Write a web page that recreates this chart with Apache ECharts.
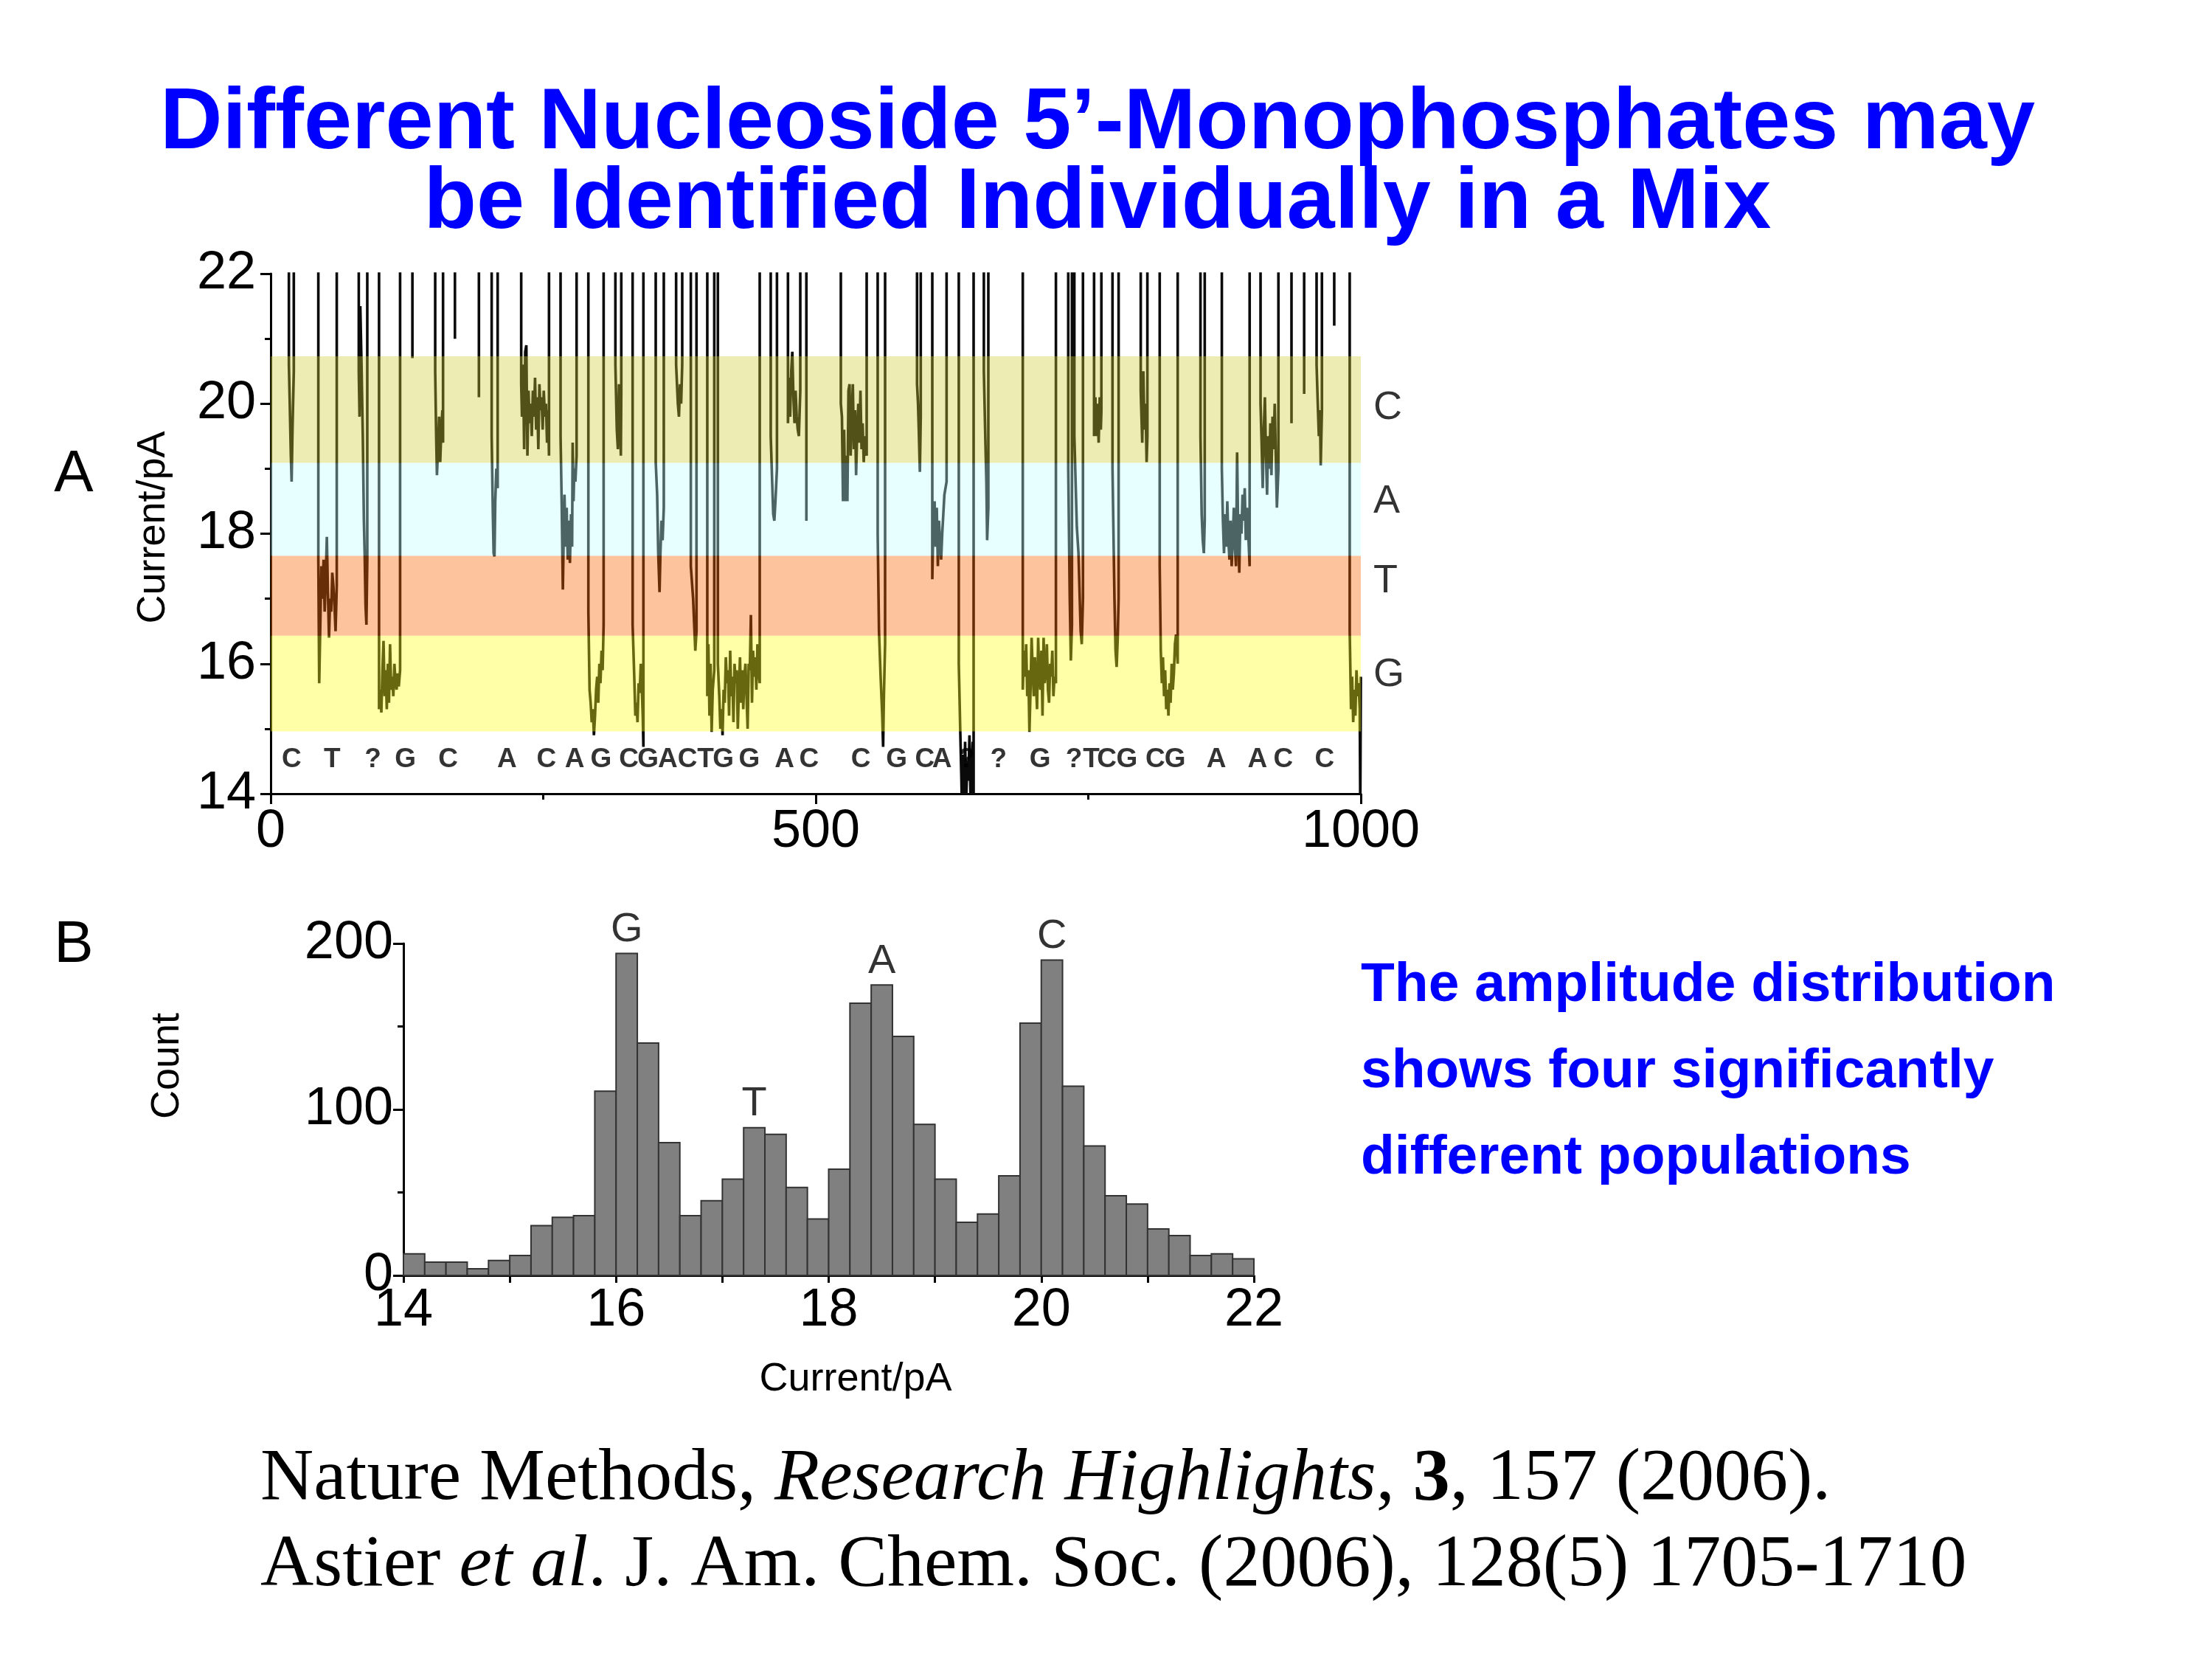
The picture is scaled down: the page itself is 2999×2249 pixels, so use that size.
<!DOCTYPE html>
<html><head><meta charset="utf-8">
<script src="https://cdn.jsdelivr.net/npm/echarts@6/dist/echarts.min.js"></script>
<style>html,body{margin:0;padding:0;background:#fff}#c{width:2999px;height:2249px}</style>
</head><body><div id="c"></div>
<script>
// ---------- Panel A data ----------
const OPEN_LEVEL = 23; // open-pore current (above the plotted range)
const traceEvents = [
  [[16.7,20.6],[17.5,20.0],[18.5,19.2],[19.2,18.8],[20,19.6],[21.2,20.5]],
  [[43.7,17.6],[44.5,15.7],[46.5,17.5],[47.5,17.0],[48.5,17.6],[49.5,16.8],[50.5,17.3],[51.5,17.95],[52.5,17.1],[53.5,16.4],[54.5,17.0],[55.5,16.8],[56.5,17.4],[57.5,17.2],[58.5,16.9],[59.5,16.5],[60.6,17.2]],
  [[80.8,20.5],[81.5,19.8],[82.2,21.5],[83.3,20.6],[84.5,19.5],[85.5,18.2],[86.2,17.7],[87,16.9],[87.8,16.6],[88.6,17.6]],
  [[99.4,15.3],[100.5,15.6],[101.5,15.25],[102.5,15.9],[103.5,16.35],[104.5,15.5],[105.5,15.9],[106.5,15.3],[107.5,16.0],[108.5,15.4],[109.5,16.3],[110.5,15.6],[111.5,15.8],[112.5,15.5],[113.5,16.0],[114.5,15.7],[115.5,15.6],[116.5,15.85],[117.5,15.65],[118.7,15.9]],
  [[130,20.7]],
  [[150.9,20.5],[151.8,19.5],[152.5,18.9],[153.5,19.3],[154.5,19.8],[155.5,19.1],[156.5,19.6],[157.5,19.9],[158.1,19.4]],
  [[169,21.0]],
  [[191,20.1]],
  [[202.7,19.5],[203.8,18.3],[204.5,17.7],[205.3,17.65],[206,18.5],[207,19.0],[208.2,18.7]],
  [[229.8,20.3],[230.5,19.8],[231.5,20.6],[232.5,19.3],[233.5,20.8],[234.5,20.9],[235.5,19.2],[236.5,20.2],[237.5,19.7],[238.5,20.0],[239.5,19.5],[240.5,20.2],[241.5,19.8],[242.5,20.4],[243.5,19.6],[244.5,20.1],[245.5,19.3],[246.5,20.3],[247.5,19.9],[248.5,20.1],[249.5,19.6],[250.5,20.2],[251.5,19.8],[252.5,20.0],[253.5,19.4],[254.5,19.9],[255.3,19.2]],
  [[265.9,19.5],[267,18.4],[268,17.14],[268.8,18.0],[269.5,18.6],[270.5,17.8],[271.5,18.4],[272.5,17.6],[273.5,18.2],[274.5,17.55],[275.5,18.3],[276.5,17.8],[277,19.4],[277.8,18.5],[278.5,19.0],[279.5,18.8],[280.6,19.2]],
  [[291.4,16.8],[292.5,15.6],[293.5,15.4],[294.5,15.1],[295.5,15.3],[296.5,14.9],[297.5,15.2],[298.5,15.6],[299.5,15.8],[300.5,15.4],[301.5,16.0],[302.5,15.7],[303.5,16.2],[304.5,15.9],[305.4,16.6]],
  [[316.2,20.6],[317.5,19.6],[318.5,19.3],[319.5,20.3],[320.5,19.8],[321.2,19.2],[321.6,20.2]],
  [[332,16.6],[333.5,15.8],[334.5,15.2],[335.5,15.4],[336.5,15.1],[337.5,15.7],[338.5,15.55],[339.5,16.0],[340.5,15.6],[341.3,15.2],[341.9,14.72]],
  [[353.2,19.1],[354.5,18.6],[355.5,17.7],[356.7,17.1],[357.5,17.7],[358.5,18.2],[359.5,17.9],[360.6,18.4]],
  [[371.9,20.6],[373.5,20.0],[374.5,19.8],[375.5,20.3],[376.5,20.0],[377.5,20.6]],
  [[385.4,17.5],[387.5,17.0],[388.5,16.6],[389.5,16.2],[390.6,16.5]],
  [[400.5,15.5],[401.5,16.3],[402.5,15.2],[403.5,16.0],[404.5,14.95],[405.5,15.6],[406.9,15.9]],
  [[410.2,16.0],[411.5,15.5],[412.5,15.0],[413.5,15.3],[414.5,14.9],[415.5,15.6],[416.5,15.4],[417.5,16.1],[418.5,15.7],[419.5,15.9],[420.5,15.2],[421.5,16.2],[422.5,15.5],[423.5,15.8],[424.5,15.1],[425.5,16.0],[426.5,15.7],[427.5,15.9],[428.5,15.0],[429.5,15.6],[430.5,16.1],[431.5,15.4],[432.5,15.9],[433.5,15.3],[434.5,15.8],[435.5,16.0],[436.5,15.5],[437.5,15.0],[438.5,16.0],[439.5,15.9],[440.5,16.75],[441.5,15.4],[442.5,16.2],[443.5,15.8],[444.5,16.1],[445.5,15.6],[446.5,16.3],[447.5,15.9],[448.6,15.7]],
  [[458.7,19.5],[460,18.8],[461,18.3],[462,18.2],[463,18.5],[464.4,19.0]],
  [[474.5,19.7],[475.5,20.4],[476.5,19.8],[477.5,20.5],[478.5,20.8],[479.5,20.1],[480.5,19.7],[481.5,20.2],[482.5,19.8],[483.5,19.6],[484.5,19.5],[485.8,20.2]],
  [[491.4,18.2]],
  [[523,20.0],[524,19.8],[525,18.5],[526,19.6],[527,18.5],[528,19.2],[529,18.5],[530,20.2],[531,20.3],[532,19.2],[533,19.8],[534,20.3],[535,19.3],[536,19.9],[537,18.9],[538,19.6],[539,20.0],[540,19.4],[541,20.2],[542,19.3],[543,19.7],[544,19.1],[545,19.5],[546.7,19.2]],
  [[556.8,18.0],[558,16.5],[559.5,15.8],[561,15.2],[561.8,14.72],[562.5,15.5],[563.6,16.3]],
  [[592.9,20.3],[593.8,20.0],[594.5,19.6],[595.5,18.95],[596.3,19.8]],
  [[606.9,17.3],[608,18.3],[609,18.5],[610,17.8],[611,18.4],[612,17.5],[613,18.2],[614,17.9],[615,17.6],[616,18.0],[617,18.3],[618,18.6],[620,18.8]],
  [[631.2,16.0],[632.5,15.0],[633.5,14.3],[634,13.9],[635,14.6],[636,13.9],[637,14.8],[638,13.9],[639,14.5],[640,14.2],[641,14.9],[642,13.9],[643,14.4],[644,14.8],[644.8,13.9]],
  [[654.2,20.5],[655.5,19.5],[656.5,18.8],[657.2,17.9],[658.3,18.4]],
  [[689.9,15.6],[691,16.2],[692,15.8],[693,16.3],[694,15.5],[695,15.9],[696,14.95],[697,15.6],[698,16.4],[699,15.9],[700,15.5],[701,16.1],[702,15.7],[703,15.3],[704,16.4],[705,15.8],[706,15.6],[707,16.2],[708,15.2],[709,16.4],[710,15.7],[711,15.9],[712,16.3],[713,15.6],[714,15.4],[715,16.0],[716,15.8],[717,16.2],[718,15.5],[719,15.8],[720.3,15.7]],
  [[731.6,19.0],[733,17.0],[734,16.05],[735,16.6]],
  [[737.2,19.5],[739.5,18.1],[741,17.7],[742,17.1],[743,16.5],[744,16.3],[745.1,17.0]],
  [[755.3,19.5],[756.5,20.1],[757.5,19.5],[758.5,20.0],[759.5,19.4],[760.5,20.1],[761.5,19.6],[762,19.9]],
  [[772.2,19.0],[774,17.0],[775,16.2],[776,15.95],[777,16.4],[777.8,17.0]],
  [[798.1,20.2],[799.5,19.4],[800.5,20.5],[801.5,19.6],[802.5,20.0],[803.5,19.1],[804.2,19.5]],
  [[815.5,17.5],[816.5,16.2],[817.5,15.7],[818.5,16.1],[819.5,15.5],[820.5,15.9],[821.5,15.3],[822.5,15.6],[823.5,15.2],[824.5,15.7],[825.5,15.4],[826.5,16.0],[827.5,15.6],[828.5,15.85],[829.5,16.3],[830.5,16.45],[832,16.0]],
  [[852.9,19.5],[854,18.3],[855,17.9],[856,17.7],[856.8,18.2]],
  [[872.5,19.0],[873.5,18.2],[874.5,17.7],[875.5,18.3],[876.5,17.8],[877.5,18.5],[878.5,17.9],[879.5,17.6],[880.5,18.2],[881.5,17.5],[882.5,17.9],[883.5,18.4],[884.5,17.8],[885.5,17.5],[886.5,19.25],[887.5,18.0],[888.5,17.4],[889.5,18.3],[890.5,18.0],[891.5,18.6],[892.5,18.2],[893.5,18.7],[894.5,17.9],[895.5,18.4],[896.5,18.1],[898,17.5]],
  [[908,20.0],[909,19.4],[910,18.7],[911,19.6],[912,20.1],[913,19.2],[914,18.6],[915,19.5],[916,19.0],[917,19.7],[918,18.9],[919,19.8],[920,19.3],[921,20.0],[922,19.2],[923,18.4],[924.4,19.0]],
  [[936.4,19.7]],
  [[948,20.15]],
  [[959.4,20.6],[960.5,20.0],[961.5,19.5],[962.5,19.9],[963.2,19.05],[964.3,19.9]],
  [[975.6,21.2]],
  [[989.8,16.5],[991,15.3],[992,15.8],[993,15.1],[994,15.6],[995,15.2],[996,15.9],[997,15.5],[998,15.7],[999,15.3],[999.5,13.8],[1000,15.8]]
];
const bandNames   = ['C', 'A', 'T', 'G'];
const bandTops    = [20.73, 19.09, 17.66, 16.43];
const bandBottoms = [19.09, 17.66, 16.43, 14.96];
const bandLabelY  = [19.93, 18.49, 17.27, 15.83];
const bandColors  = ['rgba(206,204,46,0.37)', 'rgba(193,255,255,0.37)', 'rgba(250,101,0,0.39)', 'rgba(255,255,26,0.38)'];
const seqX = [19.2,56.3,93.8,123.5,162.8,216.7,253,278.8,303,328.5,346.1,364.3,382.4,398.8,415.2,
              439,471.4,493.8,541.3,574.1,600,615.8,638.4,667.7,705.7,736.8,752.8,767,785.5,811.4,829.6,867.5,905.1,928.8,966.8];
const seqLetters = ['C','T','?','G','C','A','C','A','G','C','G','A','C','T','G',
                    'G','A','C','C','G','C','A','?','?','G','?','T','C','G','C','G','A','A','C','C'];
const SEQ_ROW_Y = 14.52;

// ---------- Panel B data ----------
const binLeft = [14.0,14.2,14.4,14.6,14.8,15.0,15.2,15.4,15.6,15.8,16.0,16.2,16.4,16.6,16.8,17.0,17.2,17.4,17.6,17.8,
                 18.0,18.2,18.4,18.6,18.8,19.0,19.2,19.4,19.6,19.8,20.0,20.2,20.4,20.6,20.8,21.0,21.2,21.4,21.6,21.8];
const BIN_WIDTH = 0.2;
const counts = [13,8,8,4,9,12,30,35,36,111,194,140,80,36,45,58,89,85,53,34,
                64,164,175,144,91,58,32,37,60,152,190,114,78,48,43,28,24,12,13,10];
const peakNames = ['G','T','A','C'];
const peakBins  = [10, 16, 22, 30];

// ---------- build ----------
const traceData = [];
traceEvents.forEach((ev, i) => {
  traceData.push([ev[0][0], OPEN_LEVEL]);
  ev.forEach(p => traceData.push(p));
  if (i < traceEvents.length - 1) traceData.push([ev[ev.length - 1][0], OPEN_LEVEL]);
});

const FONT = 'Liberation Sans, Arial, sans-serif';
const axisLineStyle = { color: '#000', width: 3 };
function valAxis(gridIndex, min, max, interval, extra) {
  return Object.assign({
    type: 'value', gridIndex, min, max, interval,
    axisLine: { show: true, onZero: false, lineStyle: axisLineStyle },
    axisTick: { show: true, length: 14, lineStyle: { color: '#000', width: 3 } },
    minorTick: { show: true, splitNumber: 2, length: 8, lineStyle: { color: '#000', width: 3 } },
    splitLine: { show: false }, minorSplitLine: { show: false },
    axisLabel: { color: '#000', fontSize: 72, fontFamily: FONT, margin: 18, formatter: v => String(v) }
  }, extra || {});
}
const lbl = (margin) => ({ color: '#000', fontSize: 72, fontFamily: FONT, margin, formatter: v => String(v) });

const chart = echarts.init(document.getElementById('c'), null, { renderer: 'canvas' });
chart.setOption({
  animation: false,
  backgroundColor: '#fff',
  grid: [
    { left: 367, top: 371, width: 1478, height: 705, outerBoundsMode: 'none', containLabel: false },
    { left: 547, top: 1279, width: 1153, height: 450, outerBoundsMode: 'none', containLabel: false }
  ],
  xAxis: [
    valAxis(0, 0, 1000, 500, { axisLabel: lbl(16) }),
    valAxis(1, 14, 22, 2, {
      axisTick: { show: true, length: 10, lineStyle: { color: '#000', width: 3 } },
      minorTick: { show: true, splitNumber: 2, length: 10, lineStyle: { color: '#000', width: 3 } },
      axisLabel: lbl(12) })
  ],
  yAxis: [
    valAxis(0, 14, 22, 2, { axisLabel: lbl(20) }),
    valAxis(1, 0, 200, 100, { axisLabel: lbl(14) })
  ],
  series: [
    { type: 'line', xAxisIndex: 0, yAxisIndex: 0, data: traceData, showSymbol: false, symbol: 'none',
      clip: true, z: 2, silent: true, lineStyle: { color: '#0a0a0a', width: 3.6 } },
    { type: 'custom', xAxisIndex: 0, yAxisIndex: 0, z: 5, silent: true,
      data: bandNames.map((n, i) => [0, 1000, bandTops[i], bandBottoms[i]]),
      renderItem: (params, api) => {
        const p1 = api.coord([api.value(0), api.value(2)]);
        const p2 = api.coord([api.value(1), api.value(3)]);
        return { type: 'rect', shape: { x: p1[0], y: p1[1], width: p2[0] - p1[0], height: p2[1] - p1[1] },
                 style: { fill: bandColors[params.dataIndex] } };
      } },
    { type: 'scatter', xAxisIndex: 0, yAxisIndex: 0, z: 6, clip: false, silent: true, symbolSize: 0,
      itemStyle: { color: 'rgba(0,0,0,0)' },
      data: bandNames.map((n, i) => [1000, bandLabelY[i], n]),
      label: { show: true, position: 'right', distance: 17, formatter: p => p.data[2],
               color: '#000', fontSize: 54, fontFamily: FONT } },
    { type: 'scatter', xAxisIndex: 0, yAxisIndex: 0, z: 6, clip: false, silent: true, symbolSize: 0,
      itemStyle: { color: 'rgba(0,0,0,0)' },
      data: seqX.map((x, i) => [x, SEQ_ROW_Y, seqLetters[i]]),
      label: { show: true, position: 'inside', formatter: p => p.data[2],
               color: '#000', fontSize: 37, fontWeight: 'bold', fontFamily: FONT } },
    { type: 'custom', xAxisIndex: 1, yAxisIndex: 1, z: 3, silent: true,
      data: binLeft.map((x, i) => [x, x + BIN_WIDTH, counts[i]]),
      renderItem: (params, api) => {
        const p1 = api.coord([api.value(0), api.value(2)]);
        const p2 = api.coord([api.value(1), 0]);
        return { type: 'rect', shape: { x: p1[0], y: p1[1], width: p2[0] - p1[0], height: p2[1] - p1[1] },
                 style: { fill: '#808080', stroke: '#333', lineWidth: 2 } };
      } },
    { type: 'scatter', xAxisIndex: 1, yAxisIndex: 1, z: 6, clip: false, silent: true, symbolSize: 0,
      itemStyle: { color: 'rgba(0,0,0,0)' },
      data: peakBins.map((b, i) => [binLeft[b] + BIN_WIDTH / 2, counts[b], peakNames[i]]),
      label: { show: true, position: 'top', distance: 4, formatter: p => p.data[2],
               color: '#000', fontSize: 56, fontFamily: FONT } }
  ],
  graphic: [
    { type: 'text', x: 1488, y: 110, style: { text: 'Different Nucleoside 5’-Monophosphates may',
      fill: '#0000FF', font: 'bold 117px ' + FONT, align: 'center' } },
    { type: 'text', x: 1488, y: 218, style: { text: 'be Identified Individually in a Mix',
      fill: '#0000FF', font: 'bold 117px ' + FONT, align: 'center' } },
    { type: 'text', x: 100, y: 644, style: { text: 'A', fill: '#000', font: '80px ' + FONT, align: 'center', verticalAlign: 'middle' } },
    { type: 'text', x: 100, y: 1282, style: { text: 'B', fill: '#000', font: '80px ' + FONT, align: 'center', verticalAlign: 'middle' } },
    { type: 'text', x: 208, y: 715, rotation: Math.PI / 2, style: { text: 'Current/pA', fill: '#000', font: '54px ' + FONT, align: 'center', verticalAlign: 'middle' } },
    { type: 'text', x: 227, y: 1445, rotation: Math.PI / 2, style: { text: 'Count', fill: '#000', font: '54px ' + FONT, align: 'center', verticalAlign: 'middle' } },
    { type: 'text', x: 1160, y: 1870, style: { text: 'Current/pA', fill: '#000', font: '54px ' + FONT, align: 'center', verticalAlign: 'middle' } },
    { type: 'text', x: 1845, y: 1336, style: { text: 'The amplitude distribution', fill: '#0000FF', font: 'bold 75px ' + FONT, verticalAlign: 'middle' } },
    { type: 'text', x: 1845, y: 1453, style: { text: 'shows four significantly', fill: '#0000FF', font: 'bold 75px ' + FONT, verticalAlign: 'middle' } },
    { type: 'text', x: 1845, y: 1570, style: { text: 'different populations', fill: '#0000FF', font: 'bold 75px ' + FONT, verticalAlign: 'middle' } },
    { type: 'text', x: 353, y: 2006, style: {
      text: '{n|Nature Methods, }{i|Research Highlights}{n|, }{b|3}{n|, 157 (2006).}',
      verticalAlign: 'middle',
      rich: { n: { fill: '#000', font: '100px Liberation Serif, Times New Roman, serif' },
              i: { fill: '#000', font: 'italic 100px Liberation Serif, Times New Roman, serif' },
              b: { fill: '#000', font: 'bold 100px Liberation Serif, Times New Roman, serif' } } } },
    { type: 'text', x: 353, y: 2123, style: {
      text: '{n|Astier }{i|et al}{n|. J. Am. Chem. Soc. (2006), 128(5) 1705-1710}',
      verticalAlign: 'middle',
      rich: { n: { fill: '#000', font: '100px Liberation Serif, Times New Roman, serif' },
              i: { fill: '#000', font: 'italic 100px Liberation Serif, Times New Roman, serif' } } } }
  ]
});
</script></body></html>
